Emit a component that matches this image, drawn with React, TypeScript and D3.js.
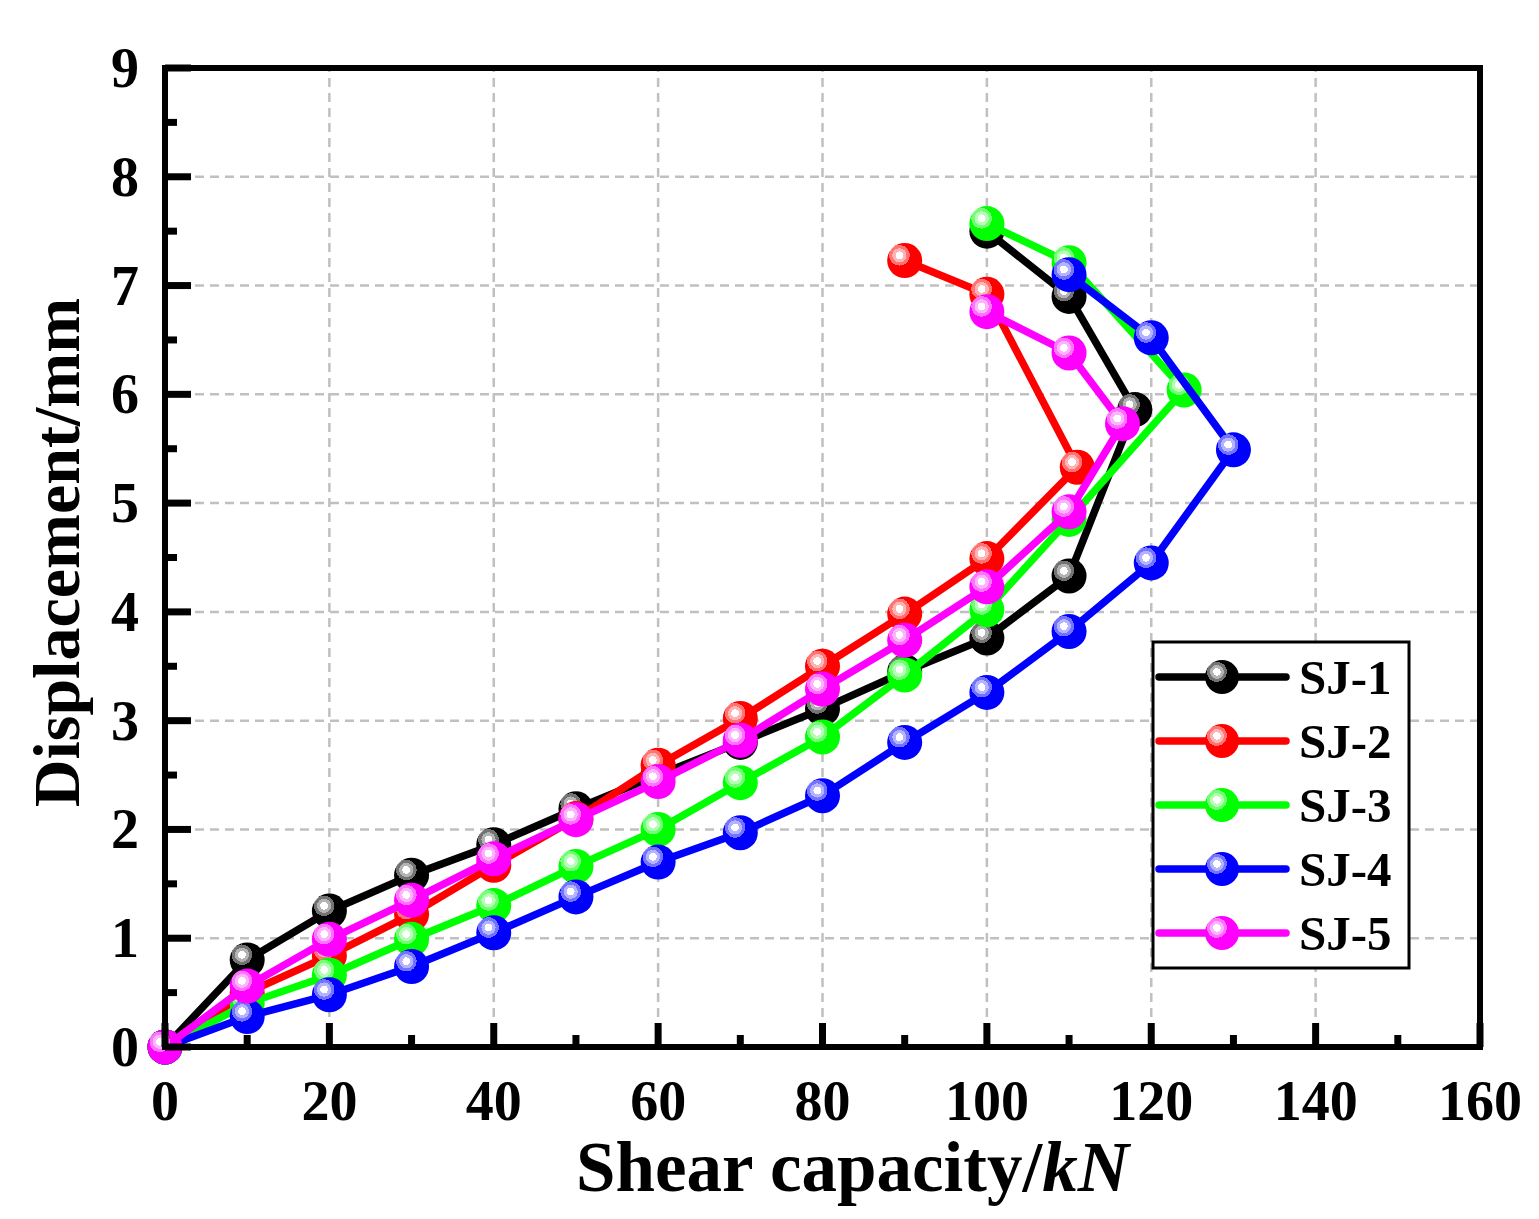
import * as d3 from 'd3'

const seriesNames = ['SJ-1', 'SJ-2', 'SJ-3', 'SJ-4', 'SJ-5']
const seriesColors = ['#000000', '#ff0000', '#00ff00', '#0000ff', '#ff00ff']

const sj1X = [0, 10, 20, 30, 40, 50, 60, 70, 80, 90, 100, 110, 118, 110, 100]
const sj1Y = [0, 0.8, 1.25, 1.58, 1.86, 2.19, 2.5, 2.8, 3.11, 3.45, 3.76, 4.33, 5.86, 6.9, 7.5]
const sj2X = [0, 10, 20, 30, 40, 50, 60, 70, 80, 90, 100, 111, 100, 90]
const sj2Y = [0, 0.5, 0.84, 1.22, 1.67, 2.1, 2.59, 3.02, 3.5, 3.98, 4.49, 5.33, 6.92, 7.23]
const sj3X = [0, 10, 20, 30, 40, 50, 60, 70, 80, 90, 100, 110, 124, 110, 100]
const sj3Y = [0, 0.4, 0.66, 0.99, 1.3, 1.66, 2.0, 2.43, 2.85, 3.42, 4.02, 4.85, 6.04, 7.21, 7.57]
const sj4X = [0, 10, 20, 30, 40, 50, 60, 70, 80, 90, 100, 110, 120, 130, 120, 110]
const sj4Y = [0, 0.28, 0.48, 0.74, 1.05, 1.38, 1.7, 1.97, 2.31, 2.8, 3.26, 3.82, 4.45, 5.49, 6.52, 7.1]
const sj5X = [0, 10, 20, 30, 40, 50, 60, 70, 80, 90, 100, 110, 116.5, 110, 100]
const sj5Y = [0, 0.56, 0.99, 1.35, 1.73, 2.09, 2.44, 2.82, 3.29, 3.74, 4.23, 4.92, 5.73, 6.38, 6.76]

const xTicks = [0, 20, 40, 60, 80, 100, 120, 140, 160]
const yTicks = [0, 1, 2, 3, 4, 5, 6, 7, 8, 9]

const allX = [sj1X, sj2X, sj3X, sj4X, sj5X]
const allY = [sj1Y, sj2Y, sj3Y, sj4Y, sj5Y]

const W = 1539
const H = 1219
const left = 165
const right = 1480
const top = 68
const bottom = 1047
const font = '"Liberation Serif", "Times New Roman", serif'

export default function App() {
  const x = d3.scaleLinear().domain([0, 160]).range([left, right])
  const y = d3.scaleLinear().domain([0, 9]).range([bottom, top])
  const line = d3.line<[number, number]>().x(d => x(d[0])).y(d => y(d[1]))

  const xMinor = d3.range(10, 160, 20)
  const yMinor = d3.range(0.5, 9, 1)
  const gridX = xTicks.filter(t => t > 0 && t < 160)
  const gridY = yTicks.filter(t => t > 0 && t < 9)

  const light = (c: string, k: number) => d3.interpolateRgb(c, '#ffffff')(k)

  return (
    <svg width={W} height={H} style={{ position: 'absolute', left: 0, top: 0, background: '#fff' }}>
      <defs>
        {seriesColors.map((c, i) => (
          <radialGradient key={i} id={`ball${i}`} cx="0.35" cy="0.35" fx="0.35" fy="0.35" r="0.65">
            <stop offset="0" stopColor="#ffffff" />
            <stop offset="0.17" stopColor="#ffffff" />
            <stop offset="0.17" stopColor={light(c, 0.7)} />
            <stop offset="0.31" stopColor={light(c, 0.7)} />
            <stop offset="0.31" stopColor={light(c, 0.45)} />
            <stop offset="0.45" stopColor={light(c, 0.45)} />
            <stop offset="0.45" stopColor={c} />
            <stop offset="1" stopColor={c} />
          </radialGradient>
        ))}
      </defs>

      {/* grid */}
      <g stroke="#c0c0c0" strokeWidth={2.5} strokeDasharray="9 6">
        {gridX.map(t => <line key={'gx' + t} x1={x(t)} x2={x(t)} y1={bottom} y2={top} />)}
        {gridY.map(t => <line key={'gy' + t} x1={left} x2={right} y1={y(t)} y2={y(t)} />)}
      </g>

      {/* series */}
      {allX.map((xs, i) => {
        const pts = xs.map((v, j) => [v, allY[i][j]] as [number, number])
        return (
          <g key={i}>
            <path d={line(pts) || ''} fill="none" stroke={seriesColors[i]} strokeWidth={7.5}
              strokeLinejoin="round" strokeLinecap="round" />
            {pts.map((p, j) => (
              <circle key={j} cx={x(p[0])} cy={y(p[1])} r={17.5} fill={`url(#ball${i})`} />
            ))}
          </g>
        )
      })}

      {/* ticks */}
      <g stroke="#000" strokeWidth={7}>
        {xTicks.map(t => <line key={'tx' + t} x1={x(t)} x2={x(t)} y1={bottom} y2={bottom - 24} />)}
        {xMinor.map(t => <line key={'mx' + t} x1={x(t)} x2={x(t)} y1={bottom} y2={bottom - 12} />)}
        {yTicks.map(t => <line key={'ty' + t} x1={left} x2={left + 26} y1={y(t)} y2={y(t)} />)}
        {yMinor.map(t => <line key={'my' + t} x1={left} x2={left + 12} y1={y(t)} y2={y(t)} />)}
      </g>

      {/* frame */}
      <rect x={left} y={top} width={right - left} height={bottom - top} fill="none" stroke="#000" strokeWidth={6} />

      {/* tick labels */}
      <g fontFamily={font} fontWeight="bold" fontSize={56} fill="#000">
        {xTicks.map(t => (
          <text key={'lx' + t} x={x(t)} y={1120} textAnchor="middle">{t}</text>
        ))}
        {yTicks.map(t => (
          <text key={'ly' + t} x={139} y={y(t) + 19} textAnchor="end">{t}</text>
        ))}
      </g>

      {/* axis titles */}
      <text x={(left + right) / 2 + 30} y={1191} textAnchor="middle" fontFamily={font} fontWeight="bold" fontSize={71}>
        Shear capacity/<tspan fontStyle="italic">kN</tspan>
      </text>
      <text transform={`translate(79, ${(top + bottom) / 2 - 5}) rotate(-90)`} textAnchor="middle"
        fontFamily={font} fontWeight="bold" fontSize={66}>
        Displacement/mm
      </text>

      {/* legend */}
      <rect x={1153} y={642} width={256} height={326} fill="#fff" stroke="#000" strokeWidth={3} />
      {seriesNames.map((n, i) => {
        const ly = 677 + i * 64
        return (
          <g key={n}>
            <line x1={1159} x2={1286} y1={ly} y2={ly} stroke={seriesColors[i]} strokeWidth={7.5} strokeLinecap="round" />
            <circle cx={1222} cy={ly} r={17} fill={`url(#ball${i})`} />
            <text x={1299} y={ly + 17} fontFamily={font} fontWeight="bold" fontSize={49}>{n}</text>
          </g>
        )
      })}
    </svg>
  )
}
